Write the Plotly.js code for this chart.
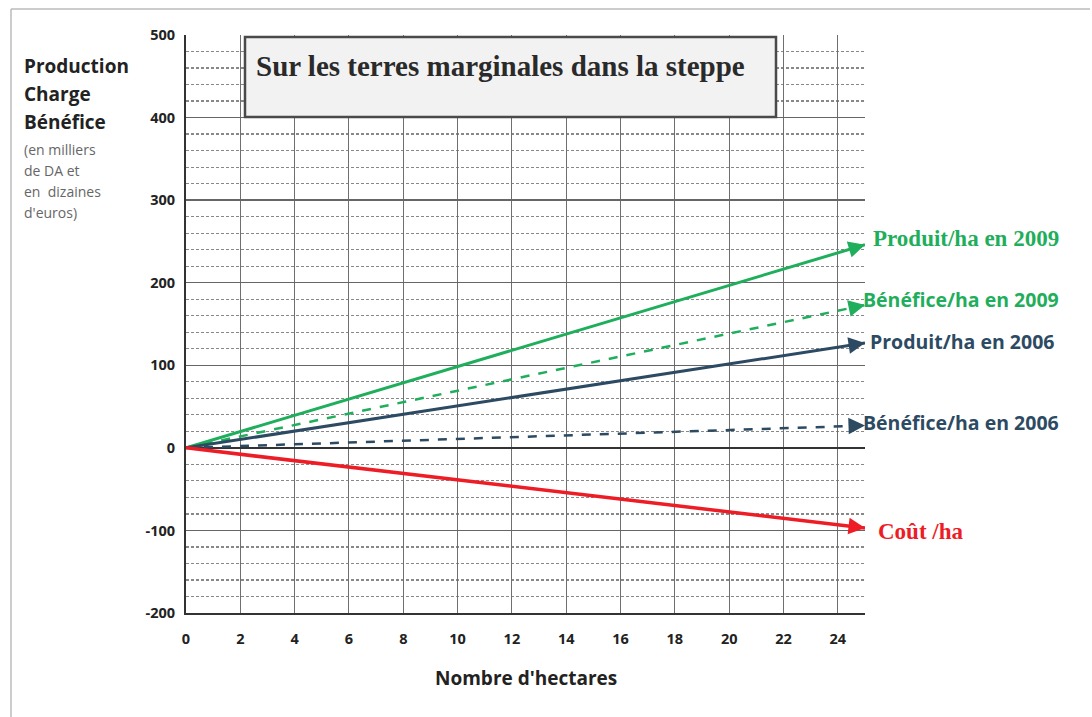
<!DOCTYPE html>
<html><head><meta charset="utf-8">
<script src="https://cdn.plot.ly/plotly-3.0.1.min.js"></script>
<style>html,body{margin:0;padding:0;background:#fff}#chart{width:1092px;height:717px}</style>
</head><body><div id="chart"></div>
<script>
// Data (thousands of DA per ha, by number of hectares)
const hectares = [0, 25];
const produit2009 = [0, 246];
const benefice2009 = [0, 173];
const produit2006 = [0, 127];
const benefice2006 = [0, 27];
const cout = [0, -97];
const seriesNames = ["Produit/ha en 2009", "Bénéfice/ha en 2009", "Produit/ha en 2006", "Bénéfice/ha en 2006", "Coût /ha"];
const xTicks = [0, 2, 4, 6, 8, 10, 12, 14, 16, 18, 20, 22, 24];
const yTicks = [-200, -100, 0, 100, 200, 300, 400, 500];
const chartTitle = "Sur les terres marginales dans la steppe";
const yTitleLines = ["Production", "Charge", "Bénéfice"];
const yNoteLines = ["(en milliers", "de DA et", "en  dizaines", "d'euros)"];
const xTitle = "Nombre d'hectares";

const GREEN = "#1fae5b", BLUE = "#2d4a63", RED = "#ee1c25";
const series = [
  {y: produit2009, color: GREEN, dash: "solid", w: 3, font: "Liberation Serif", size: 23, dy: 6, dx: 2},
  {y: benefice2009, color: GREEN, dash: "dash", w: 2.5, font: "Open Sans", size: 19.5, dy: 6, dx: -8},
  {y: produit2006, color: BLUE, dash: "solid", w: 3, font: "Open Sans", size: 19.5, dy: 1, dx: -1},
  {y: benefice2006, color: BLUE, dash: "dash", w: 2.5, font: "Open Sans", size: 19.5, dy: 3, dx: -8},
  {y: cout, color: RED, dash: "solid", w: 3.5, font: "Liberation Serif", size: 23, dy: -4, dx: 7}
];

// Plot geometry for arrowhead orientation (pixels per data unit)
const PX_X = 679 / 25, PX_Y = 578 / 700;

const traces = series.map((s, i) => ({
  type: "scatter", mode: "lines", x: hectares, y: s.y, name: seriesNames[i],
  line: {color: s.color, width: s.w, dash: s.dash},
  cliponaxis: false, hoverinfo: "skip"
}));

const annotations = [];
series.forEach((s, i) => {
  const x1 = hectares[hectares.length - 1], y1 = s.y[s.y.length - 1];
  const dxp = (x1 - hectares[0]) * PX_X, dyp = (y1 - s.y[0]) * PX_Y;
  const L = Math.hypot(dxp, dyp), len = 16;
  annotations.push({xref: "x", yref: "y", x: x1, y: y1, ax: -len * dxp / L, ay: len * dyp / L,
    showarrow: true, arrowhead: 2, arrowsize: 1.1, arrowwidth: 3, arrowcolor: s.color, text: ""});
  annotations.push({xref: "x", yref: "y", x: x1, y: y1,
    text: "<b>" + seriesNames[i] + "</b>", showarrow: false, xanchor: "left", yanchor: "middle",
    xshift: s.dx + 4, yshift: s.dy, font: {family: s.font, size: s.size, color: s.color}});
});

// Title inside box
annotations.push({xref: "paper", yref: "paper", x: (254 - 186) / 679, y: (613 - 66) / 578,
  xanchor: "left", yanchor: "middle", showarrow: false, text: "<b>" + chartTitle + "</b>",
  font: {family: "Liberation Serif", size: 29, color: "#2a2a2a"}});

// y-axis title block
const yTop = [66, 94, 122];
yTitleLines.forEach((t, i) => annotations.push({xref: "paper", yref: "paper",
  x: (22 - 186) / 679, y: (613 - yTop[i]) / 578, xanchor: "left", yanchor: "middle", showarrow: false,
  text: "<b>" + t + "</b>", font: {family: "Open Sans", size: 19, color: "#222"}}));
const nTop = [149, 170, 191, 212];
yNoteLines.forEach((t, i) => annotations.push({xref: "paper", yref: "paper",
  x: (22 - 186) / 679, y: (613 - nTop[i]) / 578, xanchor: "left", yanchor: "middle", showarrow: false,
  text: t, font: {family: "Open Sans", size: 14, color: "#666"}}));

// x-axis title
annotations.push({xref: "paper", yref: "paper", x: 0.5, y: (613 - 678) / 578, xanchor: "center", yanchor: "middle",
  showarrow: false, text: "<b>" + xTitle + "</b>", font: {family: "Open Sans", size: 19, color: "#222"}});

const shapes = [
  {type: "rect", xref: "paper", yref: "paper", x0: (245 - 186) / 679, x1: (776 - 186) / 679,
   y0: (613 - 117) / 578, y1: (613 - 37) / 578, fillcolor: "#f2f2f2", line: {color: "#4a4a4a", width: 2.5}, layer: "above"},
  {type: "line", xref: "paper", yref: "paper", x0: (11 - 186) / 679, x1: (11 - 186) / 679,
   y0: (613 - 717) / 578, y1: (613 - 9) / 578, line: {color: "#bbb", width: 1.5}},
  {type: "line", xref: "paper", yref: "paper", x0: (11 - 186) / 679, x1: (1090 - 186) / 679,
   y0: (613 - 9) / 578, y1: (613 - 9) / 578, line: {color: "#bbb", width: 1.5}}
];

const layout = {
  width: 1092, height: 717, paper_bgcolor: "#fff", plot_bgcolor: "#fff",
  margin: {l: 186, r: 227, t: 35, b: 104}, showlegend: false,
  xaxis: {range: [0, 25], tickvals: xTicks, ticktext: xTicks.map(String), showgrid: true, gridcolor: "#6f6f6f", gridwidth: 1,
    zeroline: false, showline: true, linecolor: "#333", linewidth: 2, ticks: "", ticklen: 0, ticklabelstandoff: 12,
    tickfont: {family: "Open Sans", size: 14.5, color: "#222", weight: "bold"}, fixedrange: true},
  yaxis: {range: [-200, 500], tickvals: yTicks, ticktext: yTicks.map(String), showgrid: true, gridcolor: "#666", gridwidth: 1.5,
    minor: {dtick: 20, showgrid: true, gridcolor: "#888", griddash: "3px,2px", gridwidth: 1.2},
    zeroline: true, zerolinecolor: "#333", zerolinewidth: 2, showline: true, linecolor: "#333", linewidth: 2, ticks: "",
    tickfont: {family: "Open Sans", size: 14.5, color: "#222", weight: "bold"}, ticklabelstandoff: 6, fixedrange: true},
  annotations: annotations, shapes: shapes
};
Plotly.newPlot("chart", traces, layout, {displayModeBar: false, staticPlot: true});
</script></body></html>
